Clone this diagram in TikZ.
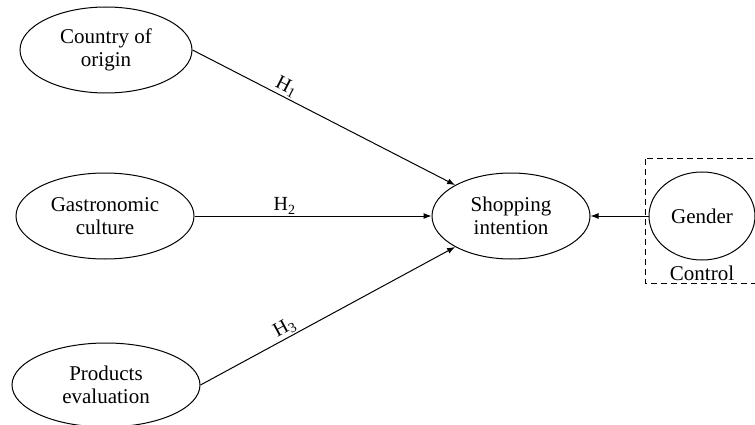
\documentclass[tikz,border=0pt]{standalone}
\usepackage{fontspec}
\setmainfont{Liberation Serif}
\usetikzlibrary{shapes.geometric,arrows.meta}

\begin{document}
\begin{tikzpicture}[x=1pt,y=-1pt,
        construct/.style={draw,ellipse,line width=1pt,inner sep=0pt,align=center,
            font=\fontsize{21}{23}\selectfont},
        path/.style={line width=1pt,-{Latex[length=8pt,width=6pt]}},
        hyp/.style={sloped,above,inner sep=1.5pt,font=\fontsize{20}{22}\selectfont}]
        \useasboundingbox (0,0) rectangle (755,425);
        \node[construct,minimum width=172,minimum height=86] (country) at (106,50) {Country of\\origin};
        \node[construct,minimum width=178,minimum height=86] (gastro) at (105,216) {Gastronomic\\culture};
        \node[construct,minimum width=188,minimum height=84] (products) at (106,385) {Products\\evaluation};
        \node[construct,minimum width=158,minimum height=86] (shopping) at (511,216) {Shopping\\intention};
        \node[construct,minimum width=106,minimum height=88] (gender) at (702,216) {Gender};
        \node[font=\fontsize{21}{23}\selectfont] (control) at (702,273) {Control};
        \draw[line width=1pt,dash pattern=on 6pt off 4pt] (645,159) rectangle (760,283);
        \draw[path] (country.east) -- node[hyp,pos=0.34] {H\textsubscript{1}} (shopping.151);
        \draw[path] (gastro.east) -- node[hyp,pos=0.38] {H\textsubscript{2}} (shopping.west);
        \draw[path] (products.east) -- node[hyp,pos=0.35] {H\textsubscript{3}} (shopping.209);
        \draw[path] (gender.west) -- (shopping.east);
    \end{tikzpicture}
\end{document}
